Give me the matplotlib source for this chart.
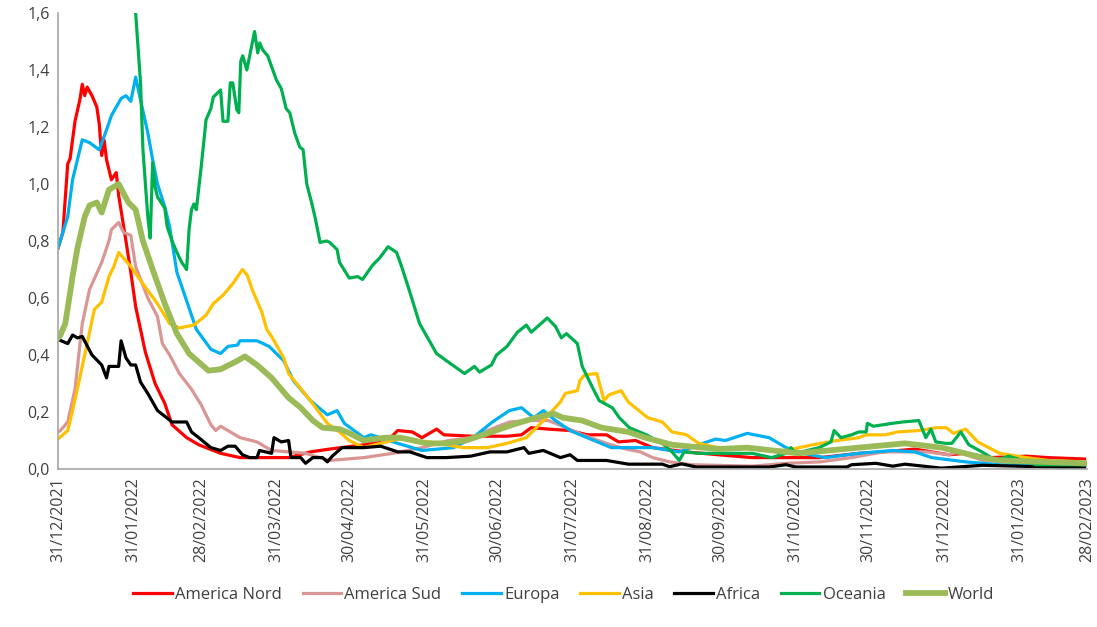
import matplotlib
matplotlib.use("Agg")
import matplotlib.pyplot as plt
import pandas as pd

plt.rcParams["font.family"] = ["Open Sans", "DejaVu Sans"]

# days counted from 31/12/2021
nord_days = [0, 2, 4, 5, 7, 9, 10, 11, 12, 14, 16, 17, 18, 19, 20, 22, 24, 25, 28, 30, 32, 36, 40, 44, 47, 53, 58, 67, 75, 88, 95, 104, 112, 126, 137, 140, 146, 150, 156, 159, 171, 185, 191, 195, 202, 211, 218, 226, 231, 238, 245, 259, 272, 286, 300, 314, 330, 340, 353, 360, 367, 374, 384, 399, 408, 423]
nord_vals = [.775, .83, 1.07, 1.09, 1.22, 1.295, 1.35, 1.31, 1.34, 1.31, 1.27, 1.21, 1.10, 1.155, 1.085, 1.015, 1.04, .96, .80, .69, .57, .41, .30, .23, .155, .11, .085, .055, .04, .04, .04, .06, .07, .085, .11, .135, .13, .11, .14, .12, .115, .115, .12, .145, .14, .135, .12, .12, .095, .10, .075, .06, .05, .04, .04, .04, .055, .06, .07, .06, .05, .055, .04, .045, .04, .035]

sud_days = [0, 1, 4, 7, 10, 13, 18, 21, 22, 25, 27, 30, 32, 37, 41, 43, 46, 50, 55, 59, 63, 65, 67, 75, 82, 88, 102, 112, 126, 138, 144, 150, 161, 170, 177, 186, 194, 202, 208, 216, 226, 234, 240, 245, 252, 261, 286, 300, 314, 327, 340, 358, 367, 371, 381, 395, 423]
sud_vals = [.13, .135, .165, .28, .51, .63, .725, .80, .84, .865, .83, .82, .71, .60, .535, .44, .40, .335, .28, .225, .155, .135, .15, .11, .095, .065, .055, .03, .04, .055, .065, .075, .10, .11, .135, .165, .17, .17, .15, .12, .09, .07, .06, .04, .025, .015, .01, .02, .025, .04, .06, .06, .05, .06, .03, .025, .02]

europa_days = [0, 2, 4, 6, 10, 13, 17, 20, 22, 26, 28, 30, 32, 34, 37, 39, 41, 44, 46, 49, 53, 57, 63, 67, 70, 74, 75, 82, 87, 93, 97, 104, 111, 115, 118, 126, 129, 140, 150, 163, 171, 179, 186, 191, 196, 200, 205, 211, 218, 228, 235, 245, 256, 264, 271, 275, 284, 293, 300, 307, 316, 330, 344, 353, 360, 374, 388, 423]
europa_vals = [.775, .83, .885, 1.015, 1.155, 1.145, 1.12, 1.19, 1.24, 1.30, 1.31, 1.29, 1.375, 1.295, 1.18, 1.085, 1.0, .92, .85, .69, .59, .49, .42, .405, .43, .435, .45, .45, .43, .38, .31, .24, .19, .205, .16, .11, .12, .09, .065, .075, .11, .165, .205, .215, .18, .205, .17, .135, .11, .075, .075, .075, .06, .085, .105, .10, .125, .11, .075, .055, .04, .055, .065, .06, .04, .025, .015, .01]

asia_days = [0, 4, 6, 10, 15, 18, 21, 23, 25, 30, 35, 41, 46, 50, 56, 61, 64, 68, 72, 76, 78, 80, 84, 86, 88, 93, 95, 104, 111, 116, 120, 126, 140, 153, 167, 177, 185, 193, 200, 207, 209, 214, 215, 217, 222, 225, 227, 232, 235, 243, 249, 253, 259, 264, 272, 300, 311, 321, 330, 333, 341, 346, 355, 362, 366, 369, 374, 379, 388, 399, 408, 423]
asia_vals = [.105, .135, .205, .36, .56, .585, .675, .71, .76, .71, .65, .58, .51, .495, .505, .54, .58, .61, .65, .70, .68, .63, .55, .49, .465, .39, .335, .24, .16, .13, .10, .075, .105, .095, .075, .075, .09, .11, .17, .235, .265, .275, .31, .33, .335, .24, .26, .275, .235, .18, .165, .13, .12, .09, .075, .065, .085, .10, .11, .12, .12, .13, .135, .145, .145, .125, .14, .095, .055, .04, .03, .025]

africa_days = [0, 4, 6, 8, 10, 14, 18, 20, 21, 25, 26, 28, 30, 32, 34, 37, 41, 47, 53, 55, 58, 63, 67, 70, 73, 76, 79, 82, 83, 88, 89, 92, 95, 96, 100, 102, 105, 109, 111, 113, 117, 126, 133, 140, 145, 152, 160, 170, 178, 185, 192, 194, 200, 207, 211, 214, 226, 235, 249, 252, 257, 263, 293, 300, 304, 325, 327, 337, 344, 349, 364, 381, 423]
africa_vals = [.455, .44, .47, .46, .465, .40, .365, .32, .36, .36, .45, .39, .365, .365, .305, .265, .205, .165, .165, .13, .11, .075, .065, .08, .08, .05, .04, .04, .065, .055, .11, .095, .10, .04, .04, .02, .04, .04, .025, .045, .075, .075, .08, .06, .06, .04, .04, .045, .06, .06, .075, .055, .065, .04, .05, .03, .03, .017, .017, .008, .018, .007, .007, .015, .007, .007, .015, .02, .01, .017, .003, .013, .004]

oceania_days = [31, 32, 34, 35, 37, 38, 39, 40, 41, 44, 45, 47, 49, 51, 53, 54, 55, 56, 57, 59, 61, 63, 64, 67, 68, 70, 71, 72, 73.7, 74.5, 75.3, 76.1, 77.8, 81, 82.3, 83.1, 84.4, 86.4, 90, 92, 94, 95.5, 97.5, 99.6, 101, 102.5, 104.5, 106, 108, 110.7, 112, 115, 116, 120, 123.5, 125.5, 129.6, 132.5, 136, 139.5, 141.6, 145, 149, 156, 162.5, 167.5, 171.6, 173.7, 178.6, 180.7, 185, 189.3, 193, 195, 201.6, 205, 207.4, 209.5, 214, 216, 220, 223, 228.4, 231.3, 235.4, 242.4, 249, 253, 256, 258, 264, 272.4, 286, 294, 300, 302, 304, 313.6, 318.5, 319.8, 322.6, 327, 330, 333, 333.5, 336, 343.6, 348, 354.7, 357.6, 359.7, 361.7, 365.8, 368.3, 372, 375.3, 380.7, 386.4, 391.8, 403, 423]
oceania_vals = [1.75, 1.6, 1.355, 1.12, .885, .81, 1.075, .99, .955, .915, .85, .80, .76, .725, .70, .84, .91, .93, .91, 1.06, 1.225, 1.265, 1.305, 1.33, 1.22, 1.22, 1.355, 1.355, 1.26, 1.25, 1.43, 1.45, 1.40, 1.535, 1.46, 1.495, 1.47, 1.45, 1.365, 1.335, 1.265, 1.25, 1.18, 1.13, 1.12, 1.0, .935, .88, .795, .80, .795, .77, .725, .67, .675, .665, .715, .74, .78, .76, .71, .62, .51, .405, .365, .335, .36, .34, .365, .40, .43, .48, .505, .48, .53, .50, .46, .475, .44, .36, .29, .24, .215, .18, .145, .12, .09, .06, .03, .06, .055, .055, .055, .04, .055, .075, .055, .075, .095, .135, .11, .12, .13, .13, .16, .15, .16, .165, .17, .11, .14, .095, .09, .09, .13, .085, .06, .03, .045, .015, .015]

world_days = [0, 1, 3, 6, 8, 11, 13, 16, 18, 21, 25, 29, 32, 35, 39, 44, 49, 54, 62, 67, 74, 77, 82, 88, 95, 100, 105, 109, 116, 119, 126, 135, 141, 152, 160, 168, 177, 189, 197, 204, 208, 216, 224, 235, 242, 253, 272, 284, 305, 330, 349, 364, 381, 388, 423]
world_vals = [.46, .47, .51, .675, .775, .885, .925, .935, .90, .98, 1.0, .935, .91, .80, .70, .58, .475, .405, .345, .35, .38, .395, .365, .32, .25, .215, .17, .145, .14, .13, .10, .11, .11, .09, .09, .10, .125, .16, .18, .195, .18, .17, .145, .13, .11, .085, .07, .075, .055, .075, .09, .075, .04, .03, .02]

names = ["America Nord", "America Sud", "Europa", "Asia", "Africa", "Oceania", "World"]
days = [nord_days, sud_days, europa_days, asia_days, africa_days, oceania_days, world_days]
vals = [nord_vals, sud_vals, europa_vals, asia_vals, africa_vals, oceania_vals, world_vals]
colors = ["#FF0000", "#DA9694", "#00B0F0", "#FFC000", "#000000", "#00B050", "#9BBB59"]
widths = [2.3, 2.3, 2.3, 2.3, 2.3, 2.3, 4.2]

y_ticks = [0, .2, .4, .6, .8, 1.0, 1.2, 1.4, 1.6]
month_ends = pd.date_range("2021-12-31", "2023-02-28", freq="ME")

W, H = 1097, 627
fig = plt.figure(figsize=(W / 100, H / 100), dpi=100)
ax = fig.add_axes([58 / W, 1 - 469 / H, (1087 - 58) / W, (469 - 13) / H])

for d, v, c, lw, n in zip(days, vals, colors, widths, names):
    ax.plot(d, v, color=c, lw=lw, label=n, solid_joinstyle="round")

ax.set_xlim(0, 424)
ax.set_ylim(0, 1.6)
ax.set_yticks(y_ticks)
ax.set_yticklabels([f"{t:.1f}".replace(".", ",") for t in y_ticks], fontsize=11.5, color="#404040")
ax.set_xticks([(m - month_ends[0]).days for m in month_ends])
ax.set_xticklabels([m.strftime("%d/%m/%Y") for m in month_ends], rotation=90, fontsize=11.5, color="#404040")
ax.tick_params(length=0, pad=6)
ax.tick_params(axis="x", pad=6)

for s in ["top", "right"]:
    ax.spines[s].set_visible(False)
for s in ["left", "bottom"]:
    ax.spines[s].set_color("#A6A6A6")
    ax.spines[s].set_linewidth(1.2)

ax.legend(loc="center", bbox_to_anchor=(564 / W, 1 - 595 / H), bbox_transform=fig.transFigure,
          ncol=7, frameon=False, fontsize=12, labelcolor="#404040", columnspacing=1.25,
          handlelength=2.3, handletextpad=0.2)

fig.savefig("out.png", dpi=100)
